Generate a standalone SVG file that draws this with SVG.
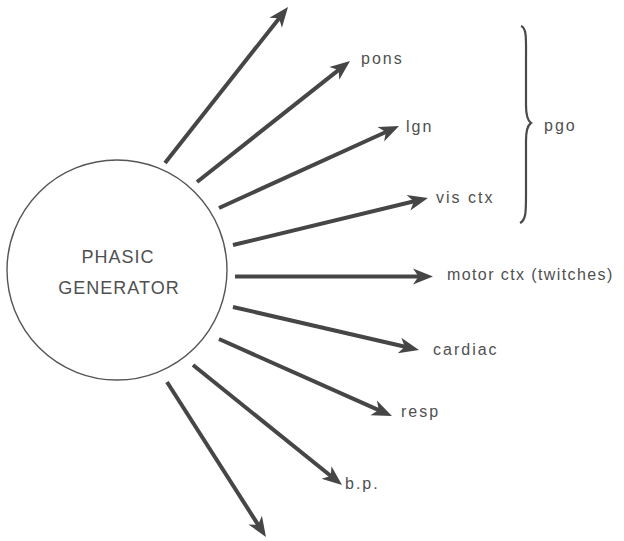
<svg xmlns="http://www.w3.org/2000/svg" width="624" height="541" viewBox="0 0 624 541">
  <style>
    .lbl { font-family: "Liberation Sans", Arial, sans-serif; font-size: 16px; letter-spacing: 2px; fill: #505050; }
    .tight { letter-spacing: 1.4px; }
    .core { font-family: "Liberation Sans", Arial, sans-serif; font-size: 18px; letter-spacing: 1px; fill: #505050; text-anchor: middle; }
    .arrow { stroke: #464646; stroke-width: 4; fill: none; marker-end: url(#head); }
  </style>
  <defs>
    <marker id="head" markerUnits="userSpaceOnUse" viewBox="-21 -10 23 20" markerWidth="23" markerHeight="20" refX="-12" refY="0" orient="auto">
      <path d="M0,0 L-20,-8 L-14.5,0 L-20,8 Z" fill="#464646"/>
    </marker>
  </defs>
  <rect width="624" height="541" fill="#ffffff"/>

  <!-- central generator -->
  <g id="generator">
    <circle cx="117" cy="270" r="110" fill="none" stroke="#555" stroke-width="1.4"/>
    <text class="core" x="118" y="263">PHASIC</text>
    <text class="core" x="119" y="294">GENERATOR</text>
  </g>

  <!-- output arrows -->
  <g id="connectors">
    <line class="arrow" x1="165" y1="163" x2="280.6" y2="16.4"/>
    <line class="arrow" x1="197" y1="182" x2="340.6" y2="68.4"/>
    <line class="arrow" x1="219" y1="208" x2="388.1" y2="131.0"/>
    <line class="arrow" x1="233" y1="245" x2="416.3" y2="200.8"/>
    <line class="arrow" x1="235" y1="276.5" x2="421" y2="276.5"/>
    <line class="arrow" x1="233" y1="307" x2="407.3" y2="347.3"/>
    <line class="arrow" x1="219" y1="339" x2="381.0" y2="411.1"/>
    <line class="arrow" x1="193" y1="365" x2="332.7" y2="477.5"/>
    <line class="arrow" x1="167" y1="382" x2="259.5" y2="526.9"/>
  </g>

  <!-- targets -->
  <g id="pons"><text class="lbl" x="361" y="64">pons</text></g>
  <g id="lgn"><text class="lbl" x="406" y="132">lgn</text></g>
  <g id="vis-ctx"><text class="lbl" x="436" y="203">vis ctx</text></g>
  <g id="motor-ctx"><text class="lbl tight" x="447" y="280">motor ctx (twitches)</text></g>
  <g id="cardiac"><text class="lbl" x="433" y="355">cardiac</text></g>
  <g id="resp"><text class="lbl" x="401" y="417">resp</text></g>
  <g id="bp"><text class="lbl" x="345" y="489">b.p.</text></g>

  <!-- pgo grouping brace -->
  <g id="pgo">
    <path d="M521,26 C527,28 526,40 526,60 L526,105 C526,116 528,121 531,123 C528,125 526,130 526,141 L526,195 C526,212 526,220 520,223" fill="none" stroke="#4a4a4a" stroke-width="2.2"/>
    <text class="lbl" x="544" y="131">pgo</text>
  </g>
</svg>
